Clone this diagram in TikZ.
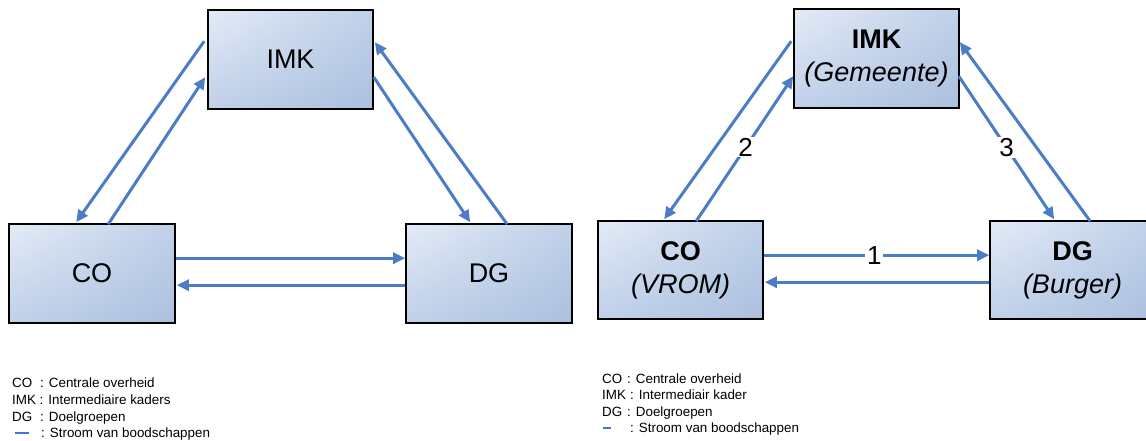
\documentclass[tikz,border=0pt]{standalone}
\usepackage{fontspec}
\setmainfont{Liberation Sans}
\usetikzlibrary{arrows.meta,calc,shadings}
\definecolor{arrowblue}{HTML}{4A7DC5}
\definecolor{legblue}{HTML}{4372E0}
\definecolor{boxlight}{HTML}{E3EBF6}
\definecolor{boxmid}{HTML}{C0D0E9}
\definecolor{boxdark}{HTML}{ABC0DF}
\begin{document}
\begin{tikzpicture}[x=1pt,y=-1pt,
  box/.style={draw=black, line width=1.6pt, minimum width=165pt, minimum height=99pt,
    inner sep=0pt, upper left=boxlight, upper right=boxmid, lower left=boxmid,
    lower right=boxdark, align=center, font=\fontsize{27}{33}\selectfont},
  flow/.style={draw=arrowblue, line width=3pt, -{Triangle[length=12pt,width=11pt]}},
  num/.style={fill=white, inner xsep=2pt, inner ysep=1pt, font=\fontsize{26}{26}\selectfont},
  leg/.style={anchor=base west, inner sep=0pt, font=\fontsize{13.4}{15}\selectfont},
  legline/.style={draw=legblue, line width=2.5pt}]
\useasboundingbox (0,0) rectangle (1146,441);

% ---------- left diagram ----------
\node[box] (imkL) at (290.5,59.5) {IMK};
\node[box, minimum width=166pt] (coL) at (92,273.5) {CO};
\node[box, minimum width=166pt] (dgL) at (489,273.5) {DG};

\draw[flow] ($(imkL.north west)+(-3,32)$) -- ($(coL.north west)+(68,-1)$);
\draw[flow] ($(coL.north west)+(100,1)$) -- ($(imkL.north west)+(-2,68)$);
\draw[flow] ($(imkL.north east)+(0,68)$) -- ($(dgL.north west)+(65,-1)$);
\draw[flow] ($(dgL.north west)+(102,1)$) -- ($(imkL.north east)+(1,33)$);
\draw[flow] ($(coL.north east)+(0,35)$) -- ($(dgL.north west)+(0,35)$);
\draw[flow] ($(dgL.north west)+(0,62)$) -- ($(coL.north east)+(1,62)$);

% ---------- right diagram ----------
\node[box] (imkR) at (876.5,58.5) {\textbf{IMK}\\\textit{(Gemeente)}};
\node[box, minimum height=98pt] (coR) at (680.5,270) {\textbf{CO}\\\textit{(VROM)}};
\node[box, minimum height=98pt] (dgR) at (1072.5,270) {\textbf{DG}\\\textit{(Burger)}};

\draw[flow] ($(imkR.north west)+(-2,33)$) -- ($(coR.north west)+(67,-1)$);
\draw[flow] ($(coR.north west)+(99,1)$) -- node[num, pos=0.51] (n2) {2} ($(imkR.north west)+(0,68)$);
\draw[flow] ($(imkR.north east)+(-1,68)$) -- node[num, pos=0.5] (n3) {3} ($(dgR.north west)+(65,-1)$);
\draw[flow] ($(dgR.north west)+(101,1)$) -- ($(imkR.north east)+(0,34)$);
\draw[flow] ($(coR.north east)+(0,35)$) -- node[num, pos=0.49] (n1) {1} ($(dgR.north west)+(0,35)$);
\draw[flow] ($(dgR.north west)+(0,62)$) -- ($(coR.north east)+(1,62)$);

% ---------- left legend ----------
\node[leg] (lco)  at (12,387) {CO};
\node[leg] (lcot) at (40,387) {: Centrale overheid};
\node[leg] (limk) at (12,404) {IMK};
\node[leg] (limkt) at (39.5,404) {: Intermediaire kaders};
\node[leg] (ldg)  at (12,421) {DG};
\node[leg] (ldgt) at (40,421) {: Doelgroepen};
\draw[legline] (15,433) -- (29,433);
\node[leg] (lstr) at (41,437) {: Stroom van boodschappen};

% ---------- right legend ----------
\node[leg] (rco)  at (602,383) {CO};
\node[leg] (rcot) at (627,383) {: Centrale overheid};
\node[leg] (rimk) at (602,399) {IMK};
\node[leg] (rimkt) at (630,399) {: Intermediair kader};
\node[leg] (rdg)  at (602,416) {DG};
\node[leg] (rdgt) at (627,416) {: Doelgroepen};
\draw[legline] (603,428) -- (611,428);
\node[leg] (rstr) at (630,432) {: Stroom van boodschappen};
\end{tikzpicture}
\end{document}
